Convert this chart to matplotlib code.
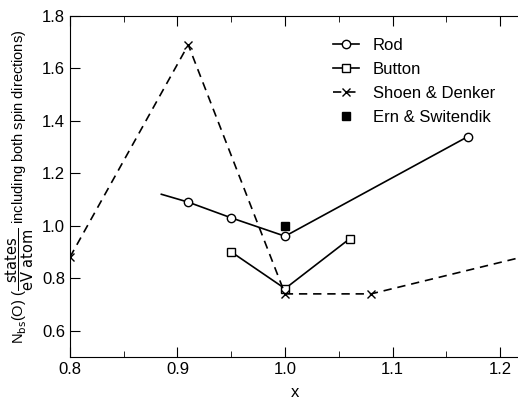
import matplotlib
matplotlib.use("Agg")
import matplotlib.pyplot as plt
from matplotlib.ticker import MultipleLocator, FormatStrFormatter

# Rod (first point is only the start of the line, no marker)
rod_x = [0.885, 0.91, 0.95, 1.00, 1.17]
rod_y = [1.12, 1.09, 1.03, 0.96, 1.34]
# Button
but_x = [0.95, 1.00, 1.06]
but_y = [0.90, 0.76, 0.95]
# Shoen & Denker (last point runs off the right edge)
sd_x = [0.80, 0.91, 1.00, 1.08, 1.25]
sd_y = [0.88, 1.69, 0.74, 0.74, 0.91]
# Ern & Switendik
es_x = [1.00]
es_y = [1.00]

plt.rcParams['font.family'] = ['Liberation Sans', 'DejaVu Sans']
fig = plt.figure(figsize=(5.18, 4.0), dpi=100)
ax = fig.add_axes([0.135, 0.108, 0.87, 0.852])

ax.plot(rod_x, rod_y, 'k-', lw=1.2, marker='o', ms=6, mfc='white', mec='k',
        markevery=[1, 2, 3, 4], label='Rod')
ax.plot(but_x, but_y, 'k-', lw=1.2, marker='s', ms=6, mfc='white', mec='k', label='Button')
ax.plot(sd_x, sd_y, 'k--', lw=1.2, marker='x', ms=6, mew=1.0,
        markevery=[0, 1, 2, 3], label='Shoen & Denker', dashes=(5, 3.5))
ax.plot(es_x, es_y, 'ks', ms=6, ls='none', label='Ern & Switendik')

ax.set_xlim(0.8, 1.219)
ax.set_ylim(0.5, 1.8)
ax.xaxis.set_major_locator(MultipleLocator(0.1))
ax.xaxis.set_minor_locator(MultipleLocator(0.05))
ax.xaxis.set_major_formatter(FormatStrFormatter('%.1f'))
ax.set_yticks([0.6, 0.8, 1.0, 1.2, 1.4, 1.6, 1.8])
ax.yaxis.set_major_formatter(FormatStrFormatter('%.1f'))
ax.tick_params(which='both', direction='in', top=True, right=False, labelsize=12)
ax.tick_params(which='major', length=7)
ax.tick_params(which='minor', length=4)
ax.spines['right'].set_visible(False)

ax.set_xlabel('x', fontsize=12, labelpad=6)
ax.set_ylabel(r'N$_{\rm bs}$(O) ($\dfrac{\rm states}{\rm eV\ atom}$ including both spin directions)',
              fontsize=10.5, labelpad=4)

ax.legend(loc='upper left', bbox_to_anchor=(0.55, 0.98), frameon=False, fontsize=12,
          handlelength=1.6, handletextpad=0.8, labelspacing=0.55)

fig.savefig('out.png', dpi=100)
